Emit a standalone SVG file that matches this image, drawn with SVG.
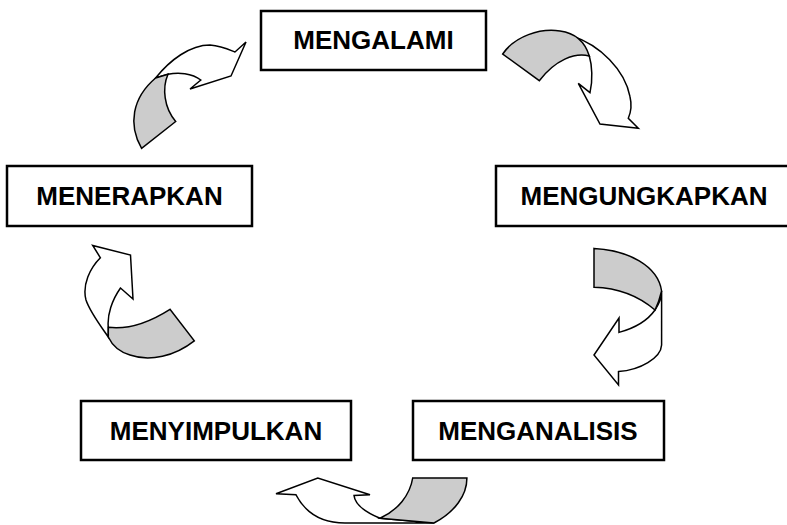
<svg xmlns="http://www.w3.org/2000/svg" width="787" height="525" viewBox="0 0 787 525">
<style>
.box{fill:#fff;stroke:#000;stroke-width:2.5}
.lbl{font-family:"Liberation Sans",Arial,sans-serif;font-weight:bold;font-size:26px;text-anchor:middle;fill:#000}
.w{fill:#fff;stroke:#000;stroke-width:1.5;stroke-linejoin:miter}
.g{fill:#cccccc;stroke:#000;stroke-width:1.5;stroke-linejoin:miter}
</style>
<rect width="787" height="525" fill="#fff"/>
<g id="connectors">
  <g id="arrow-menerapkan-mengalami">
    <path class="w" d="M155.6,78 C170,60 190,45 210,45 C222,46 230,50 235,52 L246,42 L231,76 L190,89 L200.8,80 C192,73 178,72 168,74.3 Z"/>
    <path class="g" d="M155.6,78 L168,74.3 C162,88 164,108 175.7,121.5 L141.6,148.3 C128,125 132,98 155.6,78 Z"/>
  </g>
  <g id="arrow-mengalami-mengungkapkan">
    <path class="w" d="M572,36 C600,45 625,70 630,96.7 C632,105 631,112 628.3,118.3 L638.3,128.3 L600,124 L578.3,83.3 L590,92.7 C593,80 592,65 589.3,56 Z"/>
    <path class="g" d="M502.7,54 C515,36 540,28 560,31 C575,33 585,42 589.3,56 C575,52 555,60 539.3,80.7 Z"/>
  </g>
  <g id="arrow-mengungkapkan-menganalisis">
    <path class="w" d="M661.6,291 L661.6,345 C661,358 640,370 618.5,371.6 L618.5,385 L594,355 L619,318 L619,332.4 C635,328 648,320 655,310 C659,304 661.6,298 661.6,291 Z"/>
    <path class="g" d="M594,248.4 C628,250 658,266 661.6,291 C660,298 658,304 655,310 C640,297 620,288 594,287.2 Z"/>
  </g>
  <g id="arrow-menganalisis-menyimpulkan">
    <path class="w" d="M296,494.8 C305,512 320,523 345,523 L434,523 L380,518.3 C365,512 355,505 354,495.5 L370,494.8 L317.8,478 L276,493.8 Z"/>
    <path class="g" d="M412.7,478 L466.9,478 C467,495 455,512 434,523 L380,518.3 C398,510 410,495 412.7,478 Z"/>
  </g>
  <g id="arrow-menyimpulkan-menerapkan">
    <path class="w" d="M108.3,337 C100,325 90,312 86,300 C82,285 90,268 100.4,257.8 L92.7,245.4 L130.5,255 L133,299 L120.5,288 C112,300 107,315 108.3,327.3 Z"/>
    <path class="g" d="M108.3,327.3 C130,330 150,322 170,309.3 L194.3,340.8 C175,356 150,362 130,355 C120,352 112,345 108.3,337 Z"/>
  </g>
</g>
<g id="node-mengalami">
  <rect class="box" x="261" y="11" width="225" height="59"/>
  <text class="lbl" x="373.5" y="49">MENGALAMI</text>
</g>
<g id="node-menerapkan">
  <rect class="box" x="7" y="166" width="245" height="60"/>
  <text class="lbl" x="129.5" y="205">MENERAPKAN</text>
</g>
<g id="node-mengungkapkan">
  <rect class="box" x="496" y="166" width="296" height="60"/>
  <text class="lbl" x="644" y="205">MENGUNGKAPKAN</text>
</g>
<g id="node-menyimpulkan">
  <rect class="box" x="81" y="401" width="270" height="59"/>
  <text class="lbl" x="216" y="440">MENYIMPULKAN</text>
</g>
<g id="node-menganalisis">
  <rect class="box" x="413" y="401" width="251" height="59"/>
  <text class="lbl" x="538" y="440">MENGANALISIS</text>
</g>
</svg>
